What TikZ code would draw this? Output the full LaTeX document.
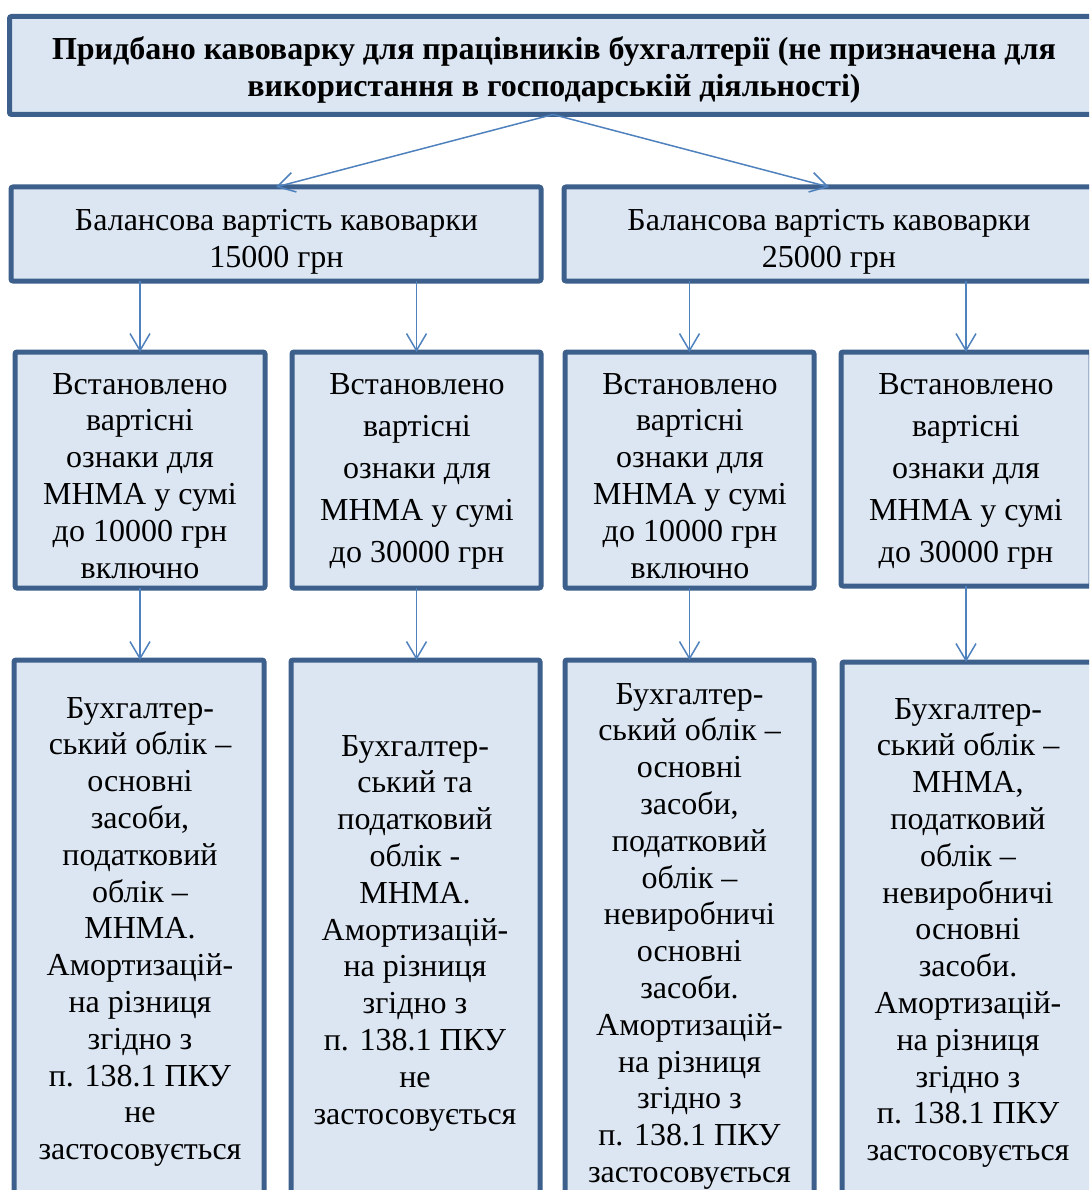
\documentclass[tikz,border=0pt]{standalone}
\usepackage{fontspec}
\setmainfont{Liberation Serif}
\usetikzlibrary{arrows.meta}
\definecolor{bordc}{HTML}{3C5F8B}
\definecolor{fillc}{HTML}{DCE6F2}
\definecolor{arrc}{HTML}{4F81BD}
\begin{document}
\begin{tikzpicture}[x=1pt,y=-1pt,
 box/.style={draw=bordc,fill=fillc,line width=5pt,rounded corners=2pt,outer sep=0pt,inner sep=0pt,anchor=north west},
 txt/.style={align=center,inner sep=0pt,font=\fontsize{32}{36.8}\selectfont,anchor=base},
 txtw/.style={align=center,inner sep=0pt,font=\fontsize{32}{42}\selectfont,anchor=base},
 ttl/.style={align=center,inner sep=0pt,font=\fontsize{32}{37}\selectfont\bfseries,anchor=base},
 arr/.style={draw=arrc,line width=1.5pt,-{Straight Barb[length=17pt,width=20pt,line width=1.5pt]}}]
\useasboundingbox (0,0) rectangle (1089,1190);
\clip (0,0) rectangle (1089,1190);
% boxes
\node[box,minimum width=1087pt,minimum height=98pt] (top) at (9.5,16.5) {};
\node[box,minimum width=530pt,minimum height=94pt] (r2a) at (11,187) {};
\node[box,minimum width=530pt,minimum height=94pt] (r2b) at (564,187) {};
\node[box,minimum width=250pt,minimum height=236pt] (r3a) at (15,352) {};
\node[box,minimum width=249pt,minimum height=236pt] (r3b) at (292,352) {};
\node[box,minimum width=249pt,minimum height=236pt] (r3c) at (565,352) {};
\node[box,minimum width=250pt,minimum height=234pt] (r3d) at (841,352) {};
\node[box,minimum width=250pt,minimum height=560pt] (r4a) at (14,660) {};
\node[box,minimum width=249pt,minimum height=560pt] (r4b) at (291,660) {};
\node[box,minimum width=249pt,minimum height=560pt] (r4c) at (565,660) {};
\node[box,minimum width=250pt,minimum height=560pt] (r4d) at (842,662) {};
% arrows
\draw[arr] (top.south) -- (r2a.north);
\draw[arr] (top.south) -- (r2b.north);
\draw[arr] (r2a.south -| r3a.north) -- (r3a.north);
\draw[arr] (r2a.south -| r3b.north) -- (r3b.north);
\draw[arr] (r2b.south -| r3c.north) -- (r3c.north);
\draw[arr] (r2b.south -| r3d.north) -- (r3d.north);
\draw[arr] (r3a.south) -- (r3a.south |- r4a.north);
\draw[arr] (r3b.south) -- (r3b.south |- r4b.north);
\draw[arr] (r3c.south) -- (r3c.south |- r4c.north);
\draw[arr] (r3d.south) -- (r3d.south |- r4d.north);
% texts (anchor base = baseline of the last line)
\node[ttl] (ttop) at (554,97) {Придбано кавоварку для працівників бухгалтерії (не призначена для\\використання в господарській діяльності)};
\node[txt] (t2a) at (276.5,267.8) {Балансова вартість кавоварки\\15000 грн};
\node[txt] (t2b) at (829,267.8) {Балансова вартість кавоварки\\25000 грн};
\node[txt] (t3a) at (140,578) {Встановлено\\вартісні\\ознаки для\\МНМА у сумі\\до 10000 грн\\включно};
\node[txtw] (t3b) at (417,562) {Встановлено\\вартісні\\ознаки для\\МНМА у сумі\\до 30000 грн};
\node[txt] (t3c) at (690,578) {Встановлено\\вартісні\\ознаки для\\МНМА у сумі\\до 10000 грн\\включно};
\node[txtw] (t3d) at (966,562) {Встановлено\\вартісні\\ознаки для\\МНМА у сумі\\до 30000 грн};
\node[txt] (t4a) at (140,1159.6) {Бухгалтер-\\ський облік –\\основні\\засоби,\\податковий\\облік –\\МНМА.\\Амортизацій-\\на різниця\\згідно з\\п. 138.1 ПКУ\\не\\застосовується};
\node[txt] (t4b) at (415,1124) {Бухгалтер-\\ський та\\податковий\\облік -\\МНМА.\\Амортизацій-\\на різниця\\згідно з\\п. 138.1 ПКУ\\не\\застосовується};
\node[txt] (t4c) at (689.5,1182.4) {Бухгалтер-\\ський облік –\\основні\\засоби,\\податковий\\облік –\\невиробничі\\основні\\засоби.\\Амортизацій-\\на різниця\\згідно з\\п. 138.1 ПКУ\\застосовується};
\node[txt] (t4d) at (968,1160.6) {Бухгалтер-\\ський облік –\\МНМА,\\податковий\\облік –\\невиробничі\\основні\\засоби.\\Амортизацій-\\на різниця\\згідно з\\п. 138.1 ПКУ\\застосовується};
\end{tikzpicture}
\end{document}
